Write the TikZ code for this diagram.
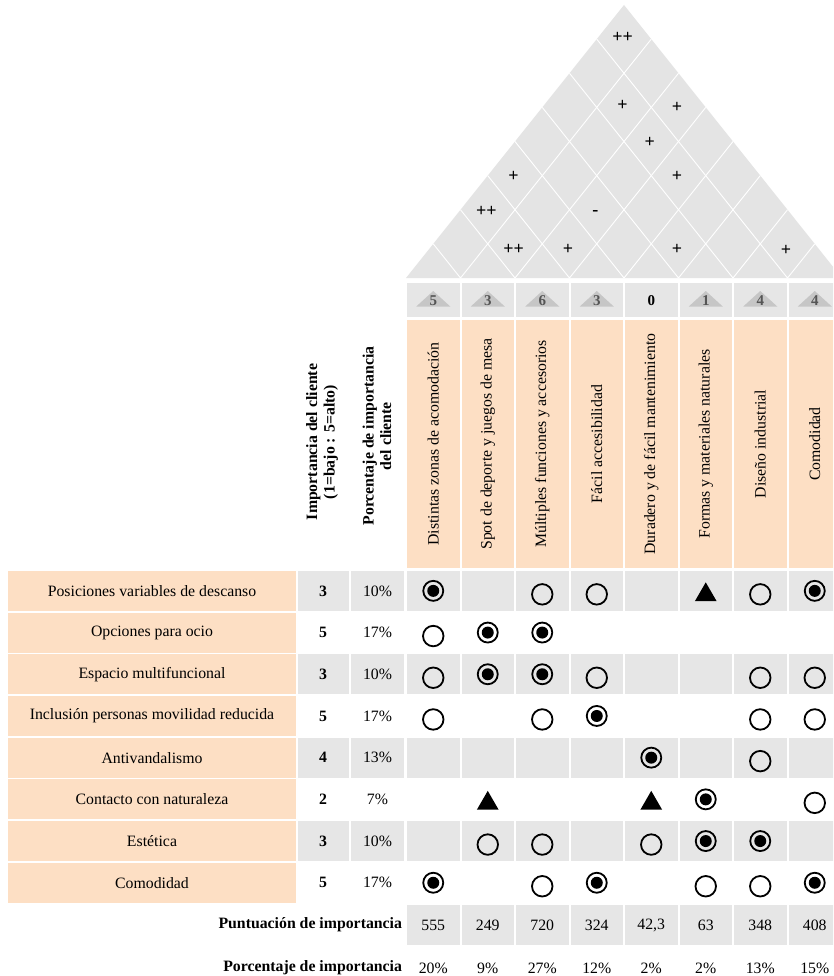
\documentclass[tikz,border=0pt]{standalone}
\usepackage{fontspec}
\setmainfont{Liberation Serif}
\usetikzlibrary{shapes.geometric}
\definecolor{peach}{HTML}{FDDFC4}
\definecolor{cellgray}{HTML}{E6E6E6}
\definecolor{roofgray}{HTML}{E4E4E4}
\definecolor{trigray}{HTML}{C6C6C6}
\definecolor{numgray}{HTML}{555555}
\begin{document}
\begin{tikzpicture}[x=1pt,y=-1pt,
  every node/.style={font=\fontsize{15.8}{17}\selectfont, inner sep=0pt, outer sep=0pt},
  labcell/.style={rectangle, fill=peach, minimum width=288pt, minimum height=40pt},
  impcell/.style={rectangle, minimum width=51pt, minimum height=40pt, font=\fontsize{15.8}{17}\selectfont\bfseries},
  pctcell/.style={rectangle, minimum width=53pt, minimum height=40pt},
  mcell/.style={rectangle, fill=cellgray, minimum width=52.5pt, minimum height=40pt},
  topcell/.style={rectangle, fill=cellgray, minimum width=52.5pt, minimum height=34pt},
  headcell/.style={rectangle, fill=peach, minimum width=52.5pt, minimum height=248pt},
  roofmark/.style={font=\fontsize{18}{18}\selectfont\bfseries},
  bull/.style={circle, draw=black, line width=1.8pt, minimum size=20pt,
    path picture={\fill[black] (path picture bounding box.center) circle (6pt);}},
  ring/.style={circle, draw=black, line width=1.8pt, minimum size=20.5pt, yshift=-3.5pt},
  tri/.style={regular polygon, regular polygon sides=3, fill=black, minimum size=25pt, yshift=-4pt},
  rowlab/.style={font=\fontsize{15.8}{17}\selectfont\bfseries, anchor=east}
]
\useasboundingbox (0,0) rectangle (833,976);
\clip (0,0) rectangle (833,976);
\fill[white] (0,0) rectangle (833,976);

% ---------- roof ----------
\fill[roofgray] (406,278) -- (624,5) -- (842,278) -- cycle;
\foreach \k in {1,...,7}{
  \pgfmathsetmacro\xk{406+54.5*\k}
  \pgfmathsetmacro\xr{(\xk+842)/2}
  \pgfmathsetmacro\yr{278-1.2523*(842-\xk)/2}
  \pgfmathsetmacro\xl{(\xk+406)/2}
  \pgfmathsetmacro\yl{278-1.2523*(\xk-406)/2}
  \draw[white, line width=0.9pt] (\xl,\yl) -- (\xk,278) -- (\xr,\yr);
}
\foreach \i/\j/\yy/\t in {1/8/37/++, 2/7/105/+, 3/8/107.5/+, 3/7/142.5/+, 1/4/176.5/+, 4/7/176.5/+,
  1/3/211.5/++, 3/5/213/-, 2/3/249.5/++, 3/4/249.5/+, 5/6/249.5/+, 7/8/250.5/+}{
  \pgfmathsetmacro\xx{378.75+27.25*(\i+\j)-1.5}
  \node[roofmark] (r-\i-\j) at (\xx,\yy) {\t};
}

% ---------- header rows ----------
\foreach \k/\n in {1/5,2/3,3/6,4/3,5/0,6/1,7/4,8/4}{
  \pgfmathsetmacro\cx{378.75+54.5*\k}
  \node[topcell] (top-\k) at (\cx,300) {};
  \ifnum\k=5
    \node[font=\fontsize{15}{17}\selectfont\bfseries] (tn-\k) at (\cx,300.5) {\n};
  \else
    \fill[trigray] (\cx-17,306.5) -- (\cx,291) -- (\cx+17,306.5) -- cycle;
    \node[text=numgray, font=\fontsize{15}{17}\selectfont\bfseries] (tn-\k) at (\cx,301) {\n};
  \fi
}
\foreach \k/\t in {1/Distintas zonas de acomodación, 2/Spot de deporte y juegos de mesa,
  3/Múltiples funciones y accesorios, 4/Fácil accesibilidad, 5/Duradero y de fácil mantenimiento,
  6/Formas y materiales naturales, 7/Diseño industrial, 8/Comodidad}{
  \pgfmathsetmacro\cx{378.75+54.5*\k}
  \node[headcell] (h-\k) at (\cx,444) {};
  \node[rotate=90] (ht-\k) at (\cx,444) {\t};
}
\node[rotate=90, align=center, font=\fontsize{15.8}{17.5}\selectfont\bfseries] (himp) at (322,442)
  {Importancia del cliente\\(1=bajo : 5=alto)};
\node[rotate=90, align=center, font=\fontsize{15.8}{17.5}\selectfont\bfseries] (hpct) at (377,436)
  {Porcentaje de importancia\\del cliente};

% ---------- rows ----------
\foreach \r/\lab/\imp/\pct/\g in {
  1/Posiciones variables de descanso/3/10\%/1,
  2/Opciones para ocio/5/17\%/0,
  3/Espacio multifuncional/3/10\%/1,
  4/Inclusión personas movilidad reducida/5/17\%/0,
  5/Antivandalismo/4/13\%/1,
  6/Contacto con naturaleza/2/7\%/0,
  7/Estética/3/10\%/1,
  8/Comodidad/5/17\%/0}{
  \pgfmathsetmacro\cy{590.85+41.7*(\r-1)}
  \node[labcell] (lab-\r) at (152,\cy) {\lab};
  \ifnum\g=1
    \node[impcell, fill=cellgray] (imp-\r) at (323,\cy) {\imp};
    \node[pctcell, fill=cellgray] (pct-\r) at (377.5,\cy) {\pct};
    \foreach \k in {1,...,8}{
      \pgfmathsetmacro\cx{378.75+54.5*\k}
      \node[mcell] (m-\r-\k) at (\cx,\cy) {};
    }
  \else
    \node[impcell] (imp-\r) at (323,\cy) {\imp};
    \node[pctcell] (pct-\r) at (377.5,\cy) {\pct};
  \fi
}

% ---------- relationship symbols ----------
\foreach \r/\k/\s in {
  1/1/bull, 1/3/ring, 1/4/ring, 1/6/tri, 1/7/ring, 1/8/bull,
  2/1/ring, 2/2/bull, 2/3/bull,
  3/1/ring, 3/2/bull, 3/3/bull, 3/4/ring, 3/7/ring, 3/8/ring,
  4/1/ring, 4/3/ring, 4/4/bull, 4/7/ring, 4/8/ring,
  5/5/bull, 5/7/ring,
  6/2/tri, 6/5/tri, 6/6/bull, 6/8/ring,
  7/2/ring, 7/3/ring, 7/5/ring, 7/6/bull, 7/7/bull,
  8/1/bull, 8/3/ring, 8/4/bull, 8/6/ring, 8/7/ring, 8/8/bull}{
  \pgfmathsetmacro\cy{590.85+41.7*(\r-1)}
  \pgfmathsetmacro\cx{378.75+54.5*\k}
  \node[\s] (s-\r-\k) at (\cx,\cy) {};
}

% ---------- bottom rows ----------
\node[rowlab] (punt) at (402,925) {Puntuación de importancia};
\node[rowlab] (porc) at (402,968) {Porcentaje de importancia};
\foreach \k/\v/\p in {1/555/20\%, 2/249/9\%, 3/720/27\%, 4/324/12\%, 5/{42,3}/2\%, 6/63/2\%, 7/348/13\%, 8/408/15\%}{
  \pgfmathsetmacro\cx{378.75+54.5*\k}
  \node[mcell] (pv-\k) at (\cx,925) {\v};
  \node (pp-\k) at (\cx,968) {\p};
}
\end{tikzpicture}
\end{document}
